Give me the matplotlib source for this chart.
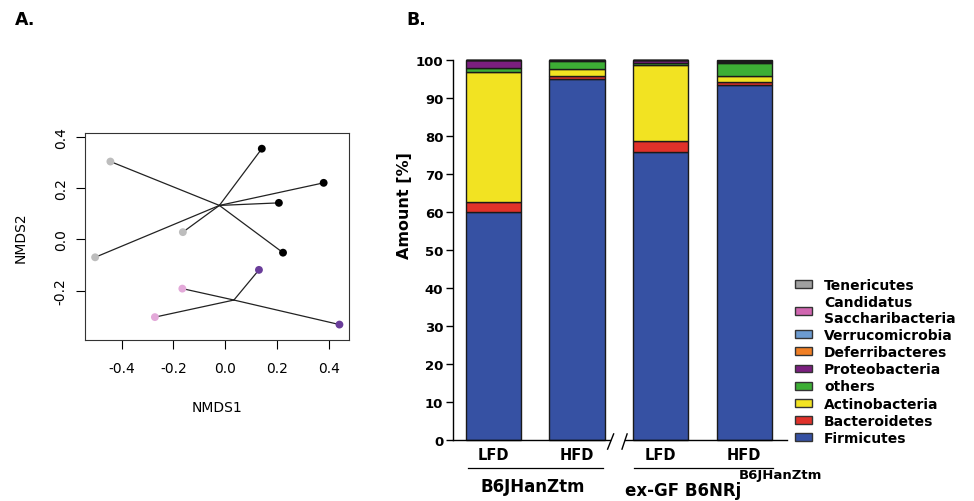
import matplotlib
matplotlib.use("Agg")
import matplotlib.pyplot as plt
from matplotlib.patches import Patch
import numpy as np

# panel A : NMDS
nmds1 = [-0.443, -0.163, -0.502, 0.142, 0.381, 0.208, 0.224, 0.131, 0.442, -0.165, -0.271]
nmds2 = [0.303, 0.028, -0.070, 0.353, 0.220, 0.142, -0.052, -0.119, -0.332, -0.192, -0.303]
point_col = ["#bdbdbd", "#bdbdbd", "#bdbdbd", "black", "black", "black", "black",
             "#6a3d9a", "#6a3d9a", "#e3a9d9", "#e3a9d9"]
group = [1, 1, 1, 1, 1, 1, 1, 2, 2, 2, 2]

# panel B : relative abundance
bar_labels = ["LFD", "HFD", "LFD", "HFD"]
phyla = ["Firmicutes", "Bacteroidetes", "Actinobacteria", "others", "Proteobacteria",
         "Deferribacteres", "Verrucomicrobia", "Candidatus\nSaccharibacteria", "Tenericutes"]
phyla_col = ["#3651a3", "#e0312a", "#f2e322", "#3dae35", "#7b1f7f",
             "#f07f25", "#6c9bd0", "#d066b0", "#a0a0a0"]
firmicutes = [60.0, 95.1, 75.8, 93.5]
bacteroidetes = [2.5, 0.7, 3.0, 0.7]
actinobacteria = [34.3, 1.8, 19.9, 1.6]
others = [1.0, 2.2, 0.5, 3.5]
proteobacteria = [2.2, 0.1, 0.7, 0.3]
deferribacteres = [0.0, 0.1, 0.0, 0.1]
verrucomicrobia = [0.0, 0.0, 0.0, 0.0]
saccharibacteria = [0.0, 0.0, 0.1, 0.0]
tenericutes = [0.0, 0.0, 0.0, 0.3]
values = [firmicutes, bacteroidetes, actinobacteria, others, proteobacteria,
          deferribacteres, verrucomicrobia, saccharibacteria, tenericutes]

fig = plt.figure(figsize=(9.74, 5.02), dpi=100)

# ---------------- A ----------------
axA = fig.add_axes([0.0873, 0.3213, 0.2713, 0.4117])
x = np.array(nmds1)
y = np.array(nmds2)
g = np.array(group)
for k in [1, 2]:
    cx = x[g == k].mean()
    cy = y[g == k].mean()
    for xi, yi in zip(x[g == k], y[g == k]):
        axA.plot([cx, xi], [cy, yi], color="#222222", lw=0.9, zorder=1)
axA.scatter(x, y, c=point_col, s=32, zorder=2, linewidths=0)
axA.set_xlim(-0.541, 0.480)
axA.set_ylim(-0.391, 0.414)
axA.set_xticks([-0.4, -0.2, 0.0, 0.2, 0.4])
axA.set_yticks([-0.2, 0.0, 0.2, 0.4])
axA.set_xticklabels(["-0.4", "-0.2", "0.0", "0.2", "0.4"])
axA.set_yticklabels(["-0.2", "0.0", "0.2", "0.4"], rotation=90, va="center")
axA.tick_params(axis="x", length=6.5, width=0.8, pad=9, labelsize=10)
axA.tick_params(axis="y", length=6.5, width=0.8, pad=6, labelsize=10)
for s in axA.spines.values():
    s.set_linewidth(0.8)
    s.set_color("#333333")
axA.set_xlabel("NMDS1", fontsize=10, labelpad=18)
axA.set_ylabel("NMDS2", fontsize=10, labelpad=19)

# ---------------- B ----------------
axB = fig.add_axes([0.4651, 0.1215, 0.3429, 0.757])
pos = np.arange(len(bar_labels))
bottom = np.zeros(len(bar_labels))
handles = []
for name, col, vals in zip(phyla, phyla_col, values):
    axB.bar(pos, vals, 0.66, bottom=bottom, color=col, edgecolor="#1a1a1a",
            linewidth=1.0, clip_on=False)
    bottom = bottom + np.array(vals)
    handles.append(Patch(facecolor=col, edgecolor="#333333", linewidth=1.0, label=name))

axB.set_xlim(-0.48, 3.51)
axB.set_ylim(0, 100)
axB.set_yticks(range(0, 101, 10))
axB.set_xticks(pos)
axB.set_xticklabels(bar_labels, fontweight="bold", fontsize=10.5)
axB.tick_params(axis="x", length=0, pad=5)
axB.tick_params(axis="y", length=5, width=1.0, pad=2, labelsize=9.5)
for lab in axB.get_yticklabels():
    lab.set_fontweight("bold")
axB.spines["top"].set_visible(False)
axB.spines["right"].set_visible(False)
axB.spines["bottom"].set_visible(False)
axB.spines["left"].set_linewidth(1.0)
axB.set_ylabel("Amount [%]", fontsize=11.5, fontweight="bold")
axB.yaxis.set_label_coords(-0.123, 0.62)

tr = axB.get_xaxis_transform()
# x axis with break
axB.plot([-0.48, 1.40], [0, 0], color="black", lw=1.0, transform=tr, clip_on=False)
axB.plot([1.57, 3.51], [0, 0], color="black", lw=1.0, transform=tr, clip_on=False)
axB.plot([1.367, 1.439], [-0.024, 0.016], color="black", lw=1.0, transform=tr, clip_on=False)
axB.plot([1.539, 1.600], [-0.024, 0.016], color="black", lw=1.0, transform=tr, clip_on=False)

# group lines and names
axB.plot([-0.305, 1.31], [-0.074, -0.074], color="black", lw=0.9, transform=tr, clip_on=False)
axB.plot([1.684, 3.343], [-0.074, -0.074], color="black", lw=0.9, transform=tr, clip_on=False)
axB.text(0.47, -0.120, "B6JHanZtm", transform=tr, ha="center", va="center",
         fontsize=12, fontweight="bold")
axB.text(2.27, -0.131, "ex-GF B6NRj", transform=tr, ha="center", va="center",
         fontsize=12, fontweight="bold")
axB.text(3.43, -0.092, "B6JHanZtm", transform=tr, ha="center", va="center",
         fontsize=9.5, fontweight="bold")

leg = fig.legend(handles[::-1], phyla[::-1], loc="upper left",
                 bbox_to_anchor=(795 / 974, 1 - 279 / 502), frameon=False,
                 prop={"weight": "bold", "size": 10}, handlelength=1.22,
                 handleheight=0.5, handletextpad=0.86, labelspacing=0.22,
                 borderpad=0, borderaxespad=0)

fig.text(15 / 974, 1 - 20 / 502, "A.", fontsize=12.5, fontweight="bold", va="center")
fig.text(406 / 974, 1 - 20 / 502, "B.", fontsize=12.5, fontweight="bold", va="center")

fig.savefig("out.png", dpi=100)
